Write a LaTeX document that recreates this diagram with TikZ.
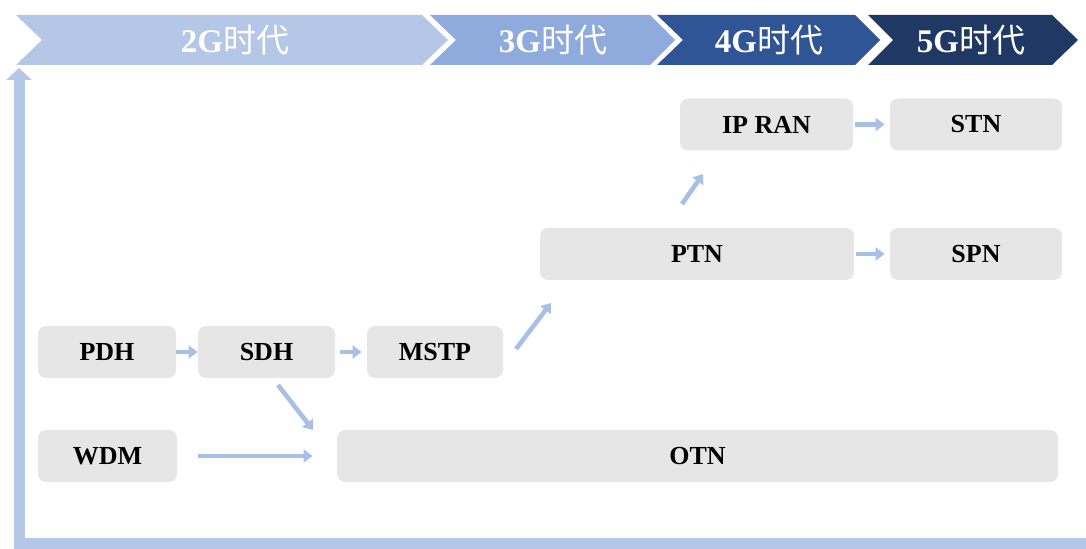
\documentclass[tikz,border=0pt]{standalone}
\usepackage{fontspec}
\setmainfont{Liberation Serif}
\newfontfamily\cjkfont{Noto Sans CJK SC}
\usetikzlibrary{arrows.meta}
\definecolor{eraone}{HTML}{B4C7E7}
\definecolor{eratwo}{HTML}{8FAADC}
\definecolor{erathree}{HTML}{2F5597}
\definecolor{erafour}{HTML}{203864}
\definecolor{boxgray}{HTML}{E7E6E6}
\definecolor{flowblue}{HTML}{A9C0E6}
\newcommand{\eraname}[1]{\textbf{#1}{\cjkfont 时代}}

\begin{document}
\begin{tikzpicture}[x=0.5pt,y=-0.5pt,line join=miter,
  netbox/.style={fill=boxgray,rounded corners=4pt,minimum height=26pt,inner sep=0pt,
    font=\fontsize{13}{15}\selectfont\bfseries},
  eralabel/.style={text=white,inner sep=0pt,font=\fontsize{16.5}{18}\selectfont},
  flow/.style={draw=flowblue,line width=2.3pt,-{Triangle[length=4.5pt,width=6.5pt]}},
  timebar/.style={draw=eraone,line width=5.5pt,-{Triangle[length=6pt,width=12.5pt]}}]
\useasboundingbox (0,0) rectangle (1086,549);
% era chevrons
\fill[eraone] (16,15) -- (422,15) -- (448,40) -- (422,65) -- (16,65) -- (42,40) -- cycle;
\fill[eratwo] (430,15) -- (650,15) -- (675,40) -- (650,65) -- (430,65) -- (456,40) -- cycle;
\fill[erathree] (657,15) -- (855,15) -- (880,40) -- (855,65) -- (657,65) -- (683,40) -- cycle;
\fill[erafour] (868,15) -- (1052,15) -- (1078,40) -- (1052,65) -- (868,65) -- (893,40) -- cycle;
\node[eralabel] (g2) at (235,40) {\eraname{2G}};
\node[eralabel] (g3) at (553,40) {\eraname{3G}};
\node[eralabel] (g4) at (769,40) {\eraname{4G}};
\node[eralabel] (g5) at (971,40) {\eraname{5G}};
% time line
\draw[timebar] (1086,543) -- (19,543) -- (19,68);
% network boxes
\node[netbox,minimum width=69pt] (pdh) at (107,352) {PDH};
\node[netbox,minimum width=68.5pt] (sdh) at (266.5,352) {SDH};
\node[netbox,minimum width=68pt] (mstp) at (435,352) {MSTP};
\node[netbox,minimum width=69.5pt] (wdm) at (107.5,456) {WDM};
\node[netbox,minimum width=360.5pt] (otn) at (697.5,456) {OTN};
\node[netbox,minimum width=157pt] (ptn) at (697,254) {PTN};
\node[netbox,minimum width=86pt] (spn) at (976,254) {SPN};
\node[netbox,minimum width=86.5pt] (ipran) at (766.5,124.5) {IP RAN};
\node[netbox,minimum width=86pt] (stn) at (976,124.5) {STN};
% arrow ends
\coordinate (sdhout) at (278,385);
\coordinate (otnin) at (313,430);
\coordinate (mstpout) at (516,349);
\coordinate (ptnin) at (551,303);
\coordinate (ptnout) at (682,204);
\coordinate (ipranin) at (703,174);
% arrows
\draw[flow] (pdh) -- (sdh);
\draw[flow,shorten <=2.5pt,shorten >=2.5pt] (sdh) -- (mstp);
\draw[flow] (sdhout) -- (otnin);
\draw[flow,shorten <=10.5pt,shorten >=12pt] (wdm) -- (otn);
\draw[flow] (mstpout) -- (ptnin);
\draw[flow] (ptnout) -- (ipranin);
\draw[flow,shorten <=1pt,shorten >=2.5pt] (ipran) -- (stn);
\draw[flow,shorten <=1pt,shorten >=2.5pt] (ptn) -- (spn);
\end{tikzpicture}
\end{document}
